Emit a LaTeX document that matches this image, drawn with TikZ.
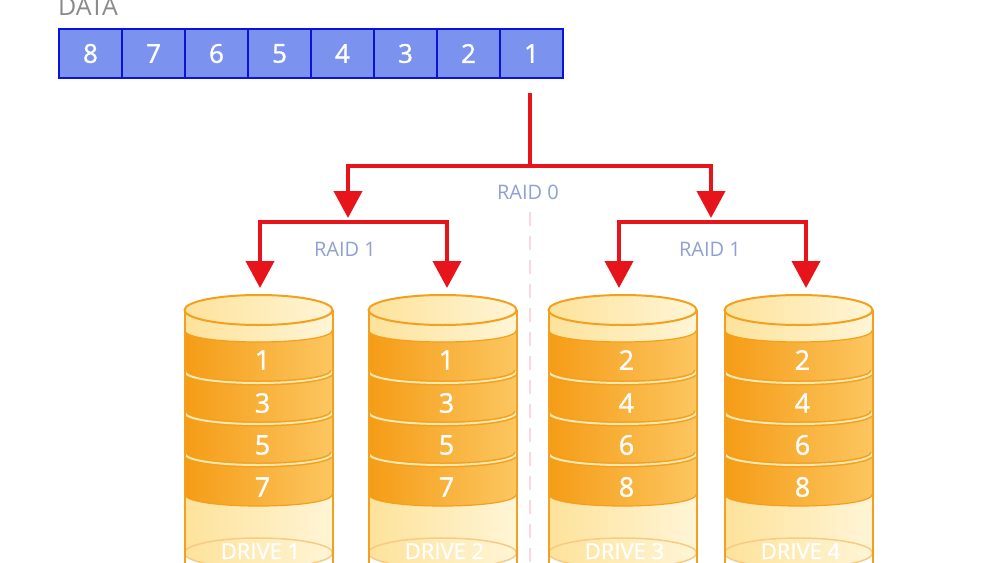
\documentclass[tikz,border=0pt]{standalone}
\usepackage{fontspec}
\setmainfont{Open Sans}
\newfontfamily\semib[FakeBold=1.2]{Open Sans}
\usetikzlibrary{arrows.meta}
\definecolor{cellfill}{HTML}{7B93EE}
\definecolor{celldraw}{HTML}{0A14D8}
\definecolor{arrowred}{HTML}{E8141B}
\definecolor{raidtxt}{HTML}{8FA0D4}
\definecolor{datatxt}{HTML}{8A8A8A}
\definecolor{orgA}{HTML}{F59C16}
\definecolor{orgB}{HTML}{FCC660}
\definecolor{paleA}{HTML}{FDE29A}
\definecolor{paleB}{HTML}{FFF5D6}
\definecolor{rim}{HTML}{F3A01F}
\definecolor{sepline}{HTML}{FDE8AE}
\definecolor{dashpink}{HTML}{FADADF}
\tikzset{
  cell/.style={draw=celldraw, fill=cellfill, line width=2.5pt, minimum width=63pt, minimum height=49pt, inner sep=0pt, text=white, font=\semib\fontsize{26}{28}\selectfont},
  redline/.style={draw=arrowred, line width=4pt},
  redarrow/.style={redline, -{Triangle[width=28pt,length=27pt]}},
  raidlbl/.style={text=raidtxt, font=\fontsize{20}{22}\selectfont, inner sep=0pt},
  num/.style={text=white, font=\semib\fontsize{27}{29}\selectfont, inner sep=0pt},
  drvlbl/.style={text=white, font=\semib\fontsize{22}{24}\selectfont, inner sep=0pt, anchor=base},
}
\newcommand\farc[2]{(#1-74,#2) .. controls (#1-74,#2+16) and (#1+74,#2+16) .. (#1+74,#2)}
\newcommand\drawdrive[6]{%
  \begin{scope}
  \clip (#1-74,300) rectangle (#1+74,562);
  % body
  \path[left color=paleA, right color=paleB] (#1-74,310) -- (#1-74,553) .. controls (#1-74,573) and (#1+74,573) .. (#1+74,553) -- (#1+74,310) -- cycle;
  \draw[rim!55, line width=1.5pt] (#1,553) ellipse [x radius=74pt, y radius=15pt];
  % orange bands
  \path[left color=orgA, right color=orgB] (#1-74,330) .. controls (#1-74,346) and (#1+74,346) .. (#1+74,330) -- (#1+74,494) .. controls (#1+74,510) and (#1-74,510) .. (#1-74,494) -- cycle;
  \draw[rim, line width=1.2pt] \farc{#1}{330};
  \draw[rim, line width=1.2pt] \farc{#1}{494};
  \foreach \yy in {371,412,453}{
    \draw[rim, line width=5pt] \farc{#1}{\yy};
    \draw[sepline, line width=2pt] \farc{#1}{\yy};
  }
  \end{scope}
  % sides
  \draw[rim, line width=2pt] (#1-74,310) -- (#1-74,565);
  \draw[rim, line width=2pt] (#1+74,310) -- (#1+74,565);
  % top
  \draw[rim, line width=2pt, left color=paleA, right color=paleB] (#1,310) ellipse [x radius=74pt, y radius=15pt];
  % texts
  \node[num] (n#2a) at (#1+4,360) {#3};
  \node[num] (n#2b) at (#1+4,403) {#4};
  \node[num] (n#2c) at (#1+4,445) {#5};
  \node[num] (n#2d) at (#1+4,487) {#6};
  \node[drvlbl] (lbl#2) at (#1+2,559) {DRIVE #2};
}
\begin{document}
\begin{tikzpicture}[x=1pt, y=-1pt]
\useasboundingbox (0,0) rectangle (1000,562);
\clip (0,0) rectangle (1000,562);
\fill[white] (0,0) rectangle (1000,562);

% data label and cells
\node[text=datatxt, font=\fontsize{25}{27}\selectfont, anchor=base west, inner sep=0pt] (datalbl) at (58,16) {DATA};
\foreach \i/\v in {0/8,1/7,2/6,3/5,4/4,5/3,6/2,7/1}{
  \node[cell] (c\v) at (90.5+63*\i,53.5) {\v};
}

% dashed divider
\coordinate (dtop) at (530,212);
\coordinate (dbot) at (530,562);
\draw[dashpink, line width=2pt, dash pattern=on 14pt off 10pt] (dtop) -- (dbot);

% drives
\drawdrive{258.5}{1}{1}{3}{5}{7}
\drawdrive{442.5}{2}{1}{3}{5}{7}
\drawdrive{622.5}{3}{2}{4}{6}{8}
\drawdrive{798.5}{4}{2}{4}{6}{8}

% connectors
\coordinate (s0) at (530,93);
\coordinate (j0) at (530,166);
\coordinate (a1) at (348,218);
\coordinate (a2) at (711,218);
\coordinate (b1) at (348,222);
\coordinate (b2) at (711,222);
\coordinate (t1) at (260,288);
\coordinate (t2) at (447,288);
\coordinate (t3) at (619,288);
\coordinate (t4) at (806,288);
\draw[redline] (s0) -- (j0);
\draw[redarrow] (j0) -| (a1);
\draw[redarrow] (j0) -| (a2);
\draw[redarrow] (b1) -| (t1);
\draw[redarrow] (b1) -| (t2);
\draw[redarrow] (b2) -| (t3);
\draw[redarrow] (b2) -| (t4);

% labels
\node[raidlbl] (raid0) at (528,192) {RAID 0};
\node[raidlbl] (raid1a) at (345,249) {RAID 1};
\node[raidlbl] (raid1b) at (710,249) {RAID 1};
\end{tikzpicture}
\end{document}
